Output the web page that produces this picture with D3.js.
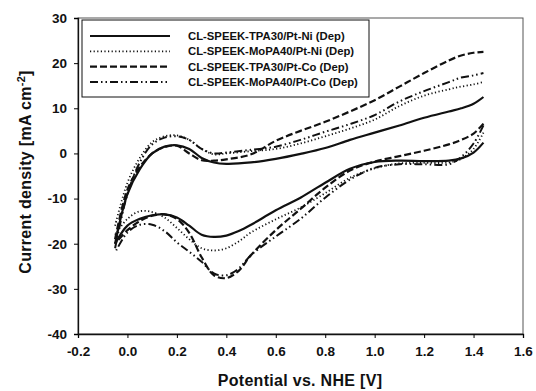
<!DOCTYPE html>
<html lang="en">
<head>
<meta charset="UTF-8">
<title>Cyclic voltammograms</title>
<script src="https://d3js.org/d3.v7.min.js"></script>
<style>
    body { margin: 0; background: #fff; }
    svg { font-family: Arial, "Liberation Sans", sans-serif; font-weight: bold; }
    .tick text { font-size: 13.5px; font-weight: bold; fill: #111; }
    .axis-label { font-size: 16px; font-weight: bold; fill: #111; letter-spacing: 0.3px; }
    .legend text { font-size: 11.3px; font-weight: bold; fill: #111; }
</style>
</head>
<body>
<div id="chart"></div>
<script>
    // potentials of the anodic (forward) and cathodic (reverse) sweeps, V vs NHE
    const fwdPotential = [-0.05, 0.0, 0.05, 0.1, 0.15, 0.2, 0.25, 0.3, 0.35, 0.4, 0.5, 0.6, 0.7, 0.8, 0.9, 1.0, 1.1, 1.2, 1.3, 1.35, 1.4, 1.44];
    const revPotential = [1.44, 1.4, 1.35, 1.3, 1.2, 1.1, 1.0, 0.9, 0.8, 0.7, 0.6, 0.5, 0.45, 0.4, 0.35, 0.3, 0.25, 0.2, 0.15, 0.1, 0.05, 0.0, -0.05];

    const seriesNames = [
        "CL-SPEEK-TPA30/Pt-Ni (Dep)",
        "CL-SPEEK-MoPA40/Pt-Ni (Dep)",
        "CL-SPEEK-TPA30/Pt-Co (Dep)",
        "CL-SPEEK-MoPA40/Pt-Co (Dep)"
    ];

    // current density, mA cm-2
    const tpaNiFwd  = [-20, -9, -3.5, 0, 1.5, 1.8, 1.0, -1.0, -2.0, -2.3, -2.0, -1.2, -0.1, 1.2, 3.0, 4.6, 6.2, 7.9, 9.3, 10.0, 11.0, 12.5];
    const tpaNiRev  = [2.4, 0.2, -1.1, -1.6, -1.7, -1.6, -1.9, -3.4, -6.5, -9.8, -12.6, -15.8, -17.2, -18.2, -18.5, -18.0, -16.0, -14.2, -13.5, -13.7, -14.5, -16.0, -20];
    const moNiFwd   = [-16, -6.5, -1, 2.5, 3.8, 4.0, 3.0, 1.0, -0.2, 0.0, 0.5, 1.0, 2.2, 3.8, 5.5, 7.5, 10.5, 12.8, 14.2, 14.8, 15.3, 15.8];
    const moNiRev   = [4.6, 1.0, -1.2, -2.0, -2.1, -2.2, -3.3, -5.4, -8.8, -12.0, -14.6, -17.5, -19.5, -21.0, -21.5, -21.0, -19.0, -16.5, -14.2, -13.0, -12.8, -14.5, -18];
    const tpaCoFwd  = [-19, -8, -3, 0, 1.4, 1.7, 0.0, -1.5, -1.6, -1.3, -0.2, 2.8, 5.0, 7.0, 9.3, 11.8, 14.8, 17.8, 20.6, 21.7, 22.3, 22.5];
    const tpaCoRev  = [6.6, 4.4, 3.0, 2.0, 0.6, -0.6, -1.8, -3.8, -7.6, -12.3, -17.0, -22.5, -26.0, -27.6, -27.0, -23.0, -17.6, -14.5, -13.5, -13.8, -15.0, -17.0, -20];
    const moCoFwd   = [-21, -9, -2, 2.0, 3.5, 3.8, 3.0, 1.0, 0.0, 0.2, 0.8, 1.5, 3.0, 4.8, 6.5, 8.5, 11.5, 13.8, 15.8, 16.8, 17.3, 17.8];
    const moCoRev   = [6.2, 2.2, -0.8, -2.4, -2.4, -2.4, -3.2, -5.8, -9.8, -14.5, -18.4, -22.5, -25.5, -27.0, -26.6, -24.0, -21.8, -19.7, -17.2, -15.8, -15.8, -17.5, -22];

    const seriesFwd = [tpaNiFwd, moNiFwd, tpaCoFwd, moCoFwd];
    const seriesRev = [tpaNiRev, moNiRev, tpaCoRev, moCoRev];
    const dashes = [null, "1.2,2.4", "7,3", "8,3,1.5,3,1.5,3"];
    const widths = [2.2, 1.8, 2.2, 2];

    const xTicks = [-0.2, 0.0, 0.2, 0.4, 0.6, 0.8, 1.0, 1.2, 1.4, 1.6];
    const yTicks = [-40, -30, -20, -10, 0, 10, 20, 30];

    const width = 536, height = 391;
    const margin = {left: 78, right: 13, top: 18, bottom: 57};

    const svg = d3.select("#chart").append("svg")
        .attr("width", width)
        .attr("height", height);

    const x = d3.scaleLinear().domain([-0.2, 1.6]).range([margin.left, width - margin.right]);
    const y = d3.scaleLinear().domain([-40, 30]).range([height - margin.bottom, margin.top]);

    // frame (top / right)
    svg.append("rect")
        .attr("x", x(-0.2)).attr("y", y(30))
        .attr("width", x(1.6) - x(-0.2)).attr("height", y(-40) - y(30))
        .attr("fill", "none").attr("stroke", "#555").attr("stroke-width", 1);

    svg.append("g")
        .attr("transform", `translate(0,${y(-40)})`)
        .call(d3.axisBottom(x).tickValues(xTicks).tickFormat(d3.format(".1f")).tickSize(4).tickPadding(8))
        .call(g => g.select(".domain").attr("stroke", "#111").attr("stroke-width", 1.3));

    svg.append("g")
        .attr("transform", `translate(${x(-0.2)},0)`)
        .call(d3.axisLeft(y).tickValues(yTicks).tickSize(4).tickPadding(7))
        .call(g => g.select(".domain").attr("stroke", "#111").attr("stroke-width", 1.3));

    svg.selectAll(".tick text").text(function () { return this.textContent.replace("−", "-"); });

    svg.append("text")
        .attr("class", "axis-label")
        .attr("x", 300).attr("y", 386)
        .attr("text-anchor", "middle")
        .text("Potential vs. NHE [V]");

    const yl = svg.append("text")
        .attr("class", "axis-label")
        .attr("transform", "translate(31,172) rotate(-90)")
        .attr("text-anchor", "middle");
    yl.append("tspan").text("Current density [mA cm");
    yl.append("tspan").attr("dy", -6).attr("font-size", "11px").text("-2");
    yl.append("tspan").attr("dy", 6).text("]");

    const line = d3.line()
        .x(d => x(d[0]))
        .y(d => y(d[1]))
        .curve(d3.curveCatmullRom.alpha(0.5));

    // each sweep is its own open path (the branches are not joined at 1.44 V)
    seriesFwd.forEach((fwd, i) => {
        const branches = [
            fwdPotential.map((p, k) => [p, fwd[k]]),
            revPotential.map((p, k) => [p, seriesRev[i][k]])
        ];
        branches.forEach(pts => {
            svg.append("path")
                .datum(pts)
                .attr("fill", "none")
                .attr("stroke", "#111")
                .attr("stroke-width", widths[i])
                .attr("stroke-dasharray", dashes[i])
                .attr("d", line);
        });
    });

    // legend
    const lg = svg.append("g").attr("class", "legend");
    lg.append("rect")
        .attr("x", 82).attr("y", 20).attr("width", 287).attr("height", 77)
        .attr("fill", "#fff").attr("stroke", "#111").attr("stroke-width", 1);
    seriesNames.forEach((name, i) => {
        const yy = 36 + i * 15.3;
        lg.append("line")
            .attr("x1", 90).attr("x2", 170).attr("y1", yy).attr("y2", yy)
            .attr("stroke", "#111").attr("stroke-width", widths[i])
            .attr("stroke-dasharray", dashes[i]);
        lg.append("text")
            .attr("x", 188).attr("y", yy + 4)
            .text(name);
    });
</script>
</body>
</html>
